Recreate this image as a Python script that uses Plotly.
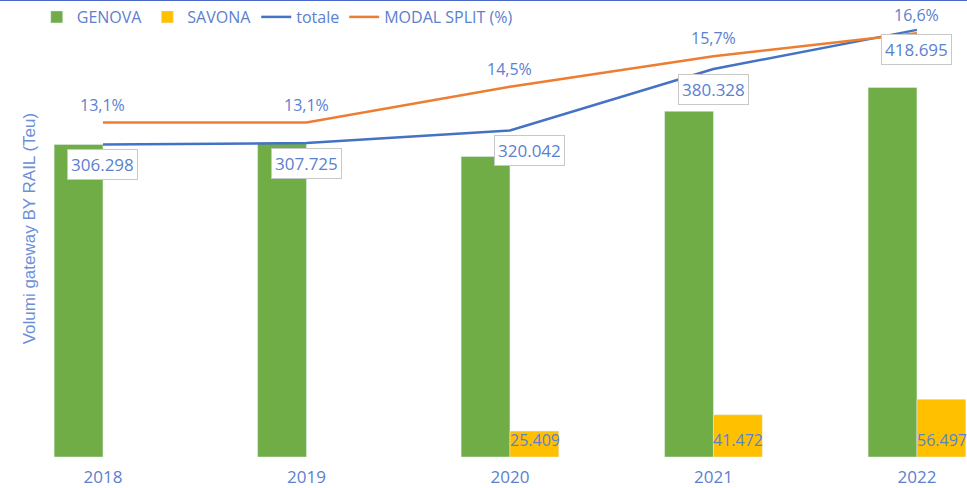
import plotly.graph_objects as go

years = ["2018", "2019", "2020", "2021", "2022"]
genova = [306298, 307725, 294633, 338856, 362198]
savona = [None, None, 25409, 41472, 56497]
totale = [306298, 307725, 320042, 380328, 418695]
modal = [13.1, 13.1, 14.5, 15.7, 16.6]
totale_lbl = ["306.298", "307.725", "320.042", "380.328", "418.695"]
savona_lbl = [None, None, "25.409", "41.472", "56.497"]
modal_lbl = ["13,1%", "13,1%", "14,5%", "15,7%", "16,6%"]

TXT = "#5b80d0"
FONT = "Open Sans"
xs = list(range(len(years)))

fig = go.Figure()
fig.add_trace(go.Bar(x=xs, y=genova, name="GENOVA", marker_color="#70AD47"))
fig.add_trace(go.Bar(x=xs, y=savona, name="SAVONA", marker_color="#FFC000"))
fig.add_trace(go.Scatter(x=xs, y=totale, name="totale", mode="lines",
                         line=dict(color="#4472C4", width=2.5)))
fig.add_trace(go.Scatter(x=xs, y=modal, name="MODAL SPLIT (%)", mode="lines",
                         line=dict(color="#ED7D31", width=2.5), yaxis="y2"))

ann = []
for i in xs:
    ann.append(dict(x=i, y=totale[i], xref="x", yref="y", text=totale_lbl[i],
                    showarrow=False, yshift=-20, xshift=(20 if i == 2 else 0),
                    bgcolor="white", bordercolor="#c8c8c8", borderwidth=1, borderpad=3,
                    font=dict(color=TXT, size=17, family=FONT)))
    ann.append(dict(x=i, y=modal[i], xref="x", yref="y2", text=modal_lbl[i],
                    showarrow=False, yshift=18,
                    font=dict(color=TXT, size=16, family=FONT)))
    if savona_lbl[i]:
        ann.append(dict(x=i, y=0, xref="x", yref="y", text=savona_lbl[i],
                        showarrow=False, yshift=17, xshift=25,
                        font=dict(color=TXT, size=16, family=FONT)))
ann.append(dict(x=0.019, y=0.5, xref="paper", yref="paper", yshift=0,
                text="Volumi gateway BY RAIL (Teu)", textangle=-90, showarrow=False,
                font=dict(color="#6b8fd8", size=17, family="Liberation Sans")))

fig.update_layout(
    width=967, height=488,
    margin=dict(l=0, r=0, t=0, b=29),
    paper_bgcolor="white", plot_bgcolor="white",
    barmode="group", bargap=0.52, bargroupgap=0,
    font=dict(family=FONT, color=TXT, size=16),
    xaxis=dict(range=[-0.506, 4.246], tickvals=xs, ticktext=years,
               showgrid=False, zeroline=False, showline=False, ticks="",
               ticklabelstandoff=8,
               tickfont=dict(size=17, color=TXT)),
    yaxis=dict(range=[0, 448000], showgrid=False, zeroline=False,
               showticklabels=False, showline=False),
    yaxis2=dict(range=[0, 17.9], overlaying="y", side="right", showgrid=False,
                zeroline=False, showticklabels=False, showline=False),
    legend=dict(orientation="h", x=0.038, y=1.0, yanchor="top", xanchor="left",
                bgcolor="rgba(0,0,0,0)", font=dict(size=16, color=TXT),
                traceorder="normal"),
    annotations=ann,
    shapes=[dict(type="line", xref="paper", yref="paper", x0=0, x1=1, y0=1, y1=1,
                 line=dict(color="#4A67C9", width=2))],
)
fig.write_html("out.html")
